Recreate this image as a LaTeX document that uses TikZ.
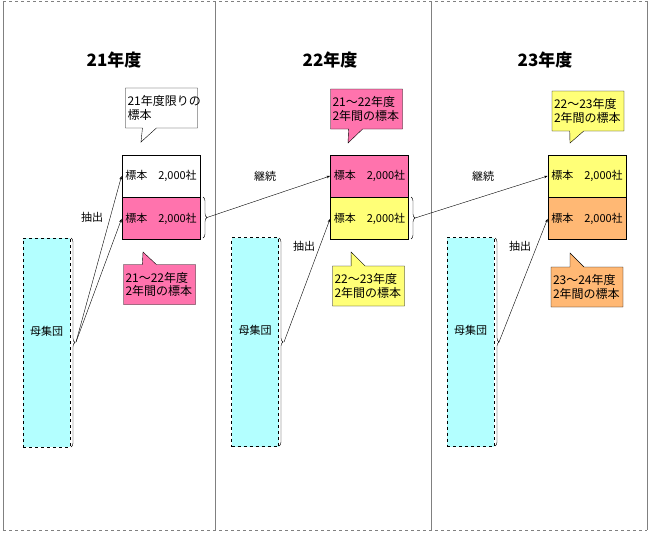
\documentclass[tikz,border=0pt]{standalone}
\usepackage{fontspec}
\setmainfont{Noto Sans CJK JP}
\usepackage{xcolor}
\usepackage{tikz}
\usetikzlibrary{arrows.meta,positioning,shapes.callouts,decorations.pathreplacing}

\definecolor{popc}{HTML}{B3FFFF}
\definecolor{pinkc}{HTML}{FF73AD}
\definecolor{yelc}{HTML}{FFFF77}
\definecolor{orac}{HTML}{FFB874}

\begin{document}
\begin{tikzpicture}[x=1pt, y=-1pt,
  node distance = 0pt,
  stk/.style   = {rectangle, draw, line width=0.9pt,
                  minimum width=78pt, minimum height=42pt,
                  inner sep=0pt, font=\fontsize{11}{13}\selectfont},
  pop/.style   = {rectangle, draw, dashed, fill=popc,
                  minimum width=47pt, minimum height=209pt,
                  text depth=24pt, font=\fontsize{11}{13}\selectfont},
  note/.style  = {rectangle callout, draw, line width=0.4pt,
                  minimum width=72pt, minimum height=40pt,
                  callout pointer width=14pt,
                  inner sep=2pt, align=left, anchor=center,
                  text width=68pt, font=\fontsize{12}{13.5}\selectfont},
  ttl/.style   = {font=\fontsize{17}{19}\selectfont\bfseries},
  lbl/.style   = {font=\fontsize{11}{13}\selectfont},
  arr/.style   = {-{Stealth[length=3.5pt,width=2.5pt]}, line width=0.4pt},
  brc/.style   = {decorate, decoration={brace, amplitude=4pt}, line width=0.4pt}
]
\useasboundingbox (0,0) rectangle (650,533);

% , - Frame , -
\draw[gray, line width=0.8pt] (3,1) -- (3,530);
\draw[gray, line width=0.8pt] (647,1) -- (647,530);
\draw[gray, line width=0.8pt, dashed] (3,1) -- (647,1);
\draw[gray, line width=0.8pt, dashed] (3,530) -- (647,530);
\draw[gray, line width=0.8pt] (215,1) -- (215,530);
\draw[gray, line width=0.8pt] (431,1) -- (431,530);

% , - Titles , -
\node[ttl] (y1) at (114,60) {21年度};
\node[ttl] (y2) at (330,60) {22年度};
\node[ttl] (y3) at (545,60) {23年度};

% , - 21年度 , -
\node[stk, fill=white]               (a1) at (161,176) {標本\quad 2,000社};
\node[stk, fill=pinkc, below=of a1]  (b1) {標本\quad 2,000社};
\node[pop] (p1) at (46.5,342.5) {母集団};
\coordinate (pt1) at (76,342);
\coordinate (bt1) at (207,217.5);
\draw[brc] (71,238) -- (71,447);
\draw[brc] (203,197) -- (203,238);
\node[note, fill=white, callout absolute pointer={(141,142)}]
     (n1) at (161.5,108) {21年度限りの\\標本};
\node[note, fill=pinkc, callout absolute pointer={(143,252)}]
     (m1) at (159.5,284.5) {21～22年度\\2年間の標本};
\node[lbl] (e1) at (92,217) {抽出};
\draw[arr] (pt1) -- (a1.west);
\draw[arr] (pt1) -- (b1.west);

% , - 22年度 , -
\node[stk, fill=pinkc]               (a2) at (369.5,176) {標本\quad 2,000社};
\node[stk, fill=yelc, below=of a2]   (b2) {標本\quad 2,000社};
\node[pop] (p2) at (255,342) {母集団};
\coordinate (pt2) at (284,342);
\coordinate (bt2) at (415,218);
\draw[brc] (279,238) -- (279,446);
\draw[brc] (411,197) -- (411,239);
\node[note, fill=pinkc, callout absolute pointer={(348,143)}]
     (n2) at (366.5,109) {21～22年度\\2年間の標本};
\node[note, fill=yelc, callout absolute pointer={(351,252)}]
     (m2) at (368.5,286) {22～23年度\\2年間の標本};
\node[lbl] (k2) at (265,176) {継続};
\node[lbl] (e2) at (304,246) {抽出};
\draw[arr] (bt1) -- (a2.west);
\draw[arr] (pt2) -- (b2.west);

% , - 23年度 , -
\node[stk, fill=yelc]                (a3) at (587,176) {標本\quad 2,000社};
\node[stk, fill=orac, below=of a3]   (b3) {標本\quad 2,000社};
\node[pop] (p3) at (470.5,342) {母集団};
\coordinate (pt3) at (499,342);
\draw[brc] (495,238) -- (495,446);
\node[note, fill=yelc, callout absolute pointer={(570,143)}]
     (n3) at (588,111) {22～23年度\\2年間の標本};
\node[note, fill=orac, callout absolute pointer={(570,253)}]
     (m3) at (587,287) {23～24年度\\2年間の標本};
\node[lbl] (k3) at (483,176) {継続};
\node[lbl] (e3) at (520,246) {抽出};
\draw[arr] (bt2) -- (a3.west);
\draw[arr] (pt3) -- (b3.west);

\end{tikzpicture}
\end{document}
